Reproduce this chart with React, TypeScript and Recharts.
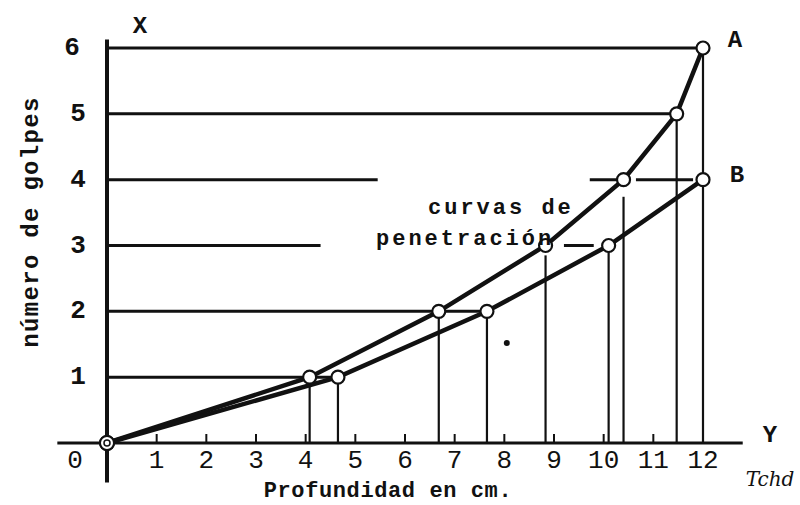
import { ComposedChart, Line, XAxis, YAxis, ReferenceLine, ReferenceDot } from 'recharts'

// curva A
const depthA = [0, 4.08, 6.68, 8.83, 10.4, 11.47, 12]
const blowsA = [0, 1, 2, 3, 4, 5, 6]
// curva B
const depthB = [0, 4.65, 7.65, 10.1, 12]
const blowsB = [0, 1, 2, 3, 4]

const xTicks = [0, 1, 2, 3, 4, 5, 6, 7, 8, 9, 10, 11, 12]
const yTicks = [1, 2, 3, 4, 5, 6]

// horizontal guide segments: [y, from x, to x]
const hGuides = [
    [6, 0, 12],
    [5, 0, 11.47],
    [4, 0, 5.45],
    [4, 9.72, 10.4],
    [4, 10.65, 11.8],
    [3, 0, 4.3],
    [3, 9.2, 9.8],
    [2, 0, 7.65],
    [1, 0, 4.65],
]
// vertical drop lines: [x, top y]
const vGuides = [
    [4.08, 1],
    [4.65, 1],
    [6.68, 2],
    [7.65, 2],
    [8.83, 2.85],
    [10.1, 3],
    [10.4, 3.74],
    [11.47, 5],
    [12, 6],
]

const dataA = depthA.map((x, i) => ({ x, y: blowsA[i] }))
const dataB = depthB.map((x, i) => ({ x, y: blowsB[i] }))

const INK = '#111'
const MONO = '"Liberation Mono", "DejaVu Sans Mono", monospace'

const OpenDot = (props: any) => {
    const { cx, cy, index } = props
    if (index === 0) {
        return (
            <g key={`d${index}`}>
                <circle cx={cx} cy={cy} r={7} fill="#fff" stroke={INK} strokeWidth={2} />
                <circle cx={cx} cy={cy} r={3} fill="#fff" stroke={INK} strokeWidth={1.5} />
            </g>
        )
    }
    return <circle key={`d${index}`} cx={cx} cy={cy} r={6.5} fill="#fff" stroke={INK} strokeWidth={2.2} />
}

const XTick = (props: any) => {
    const { x, payload } = props
    const v = payload.value
    const y = 443
    return (
        <g>
            {v > 0 && <line x1={x} y1={y - 9} x2={x} y2={y} stroke={INK} strokeWidth={2} />}
            <text x={v === 0 ? x - 32 : x} y={y + 25} textAnchor="middle" fontFamily={MONO} fontSize={26} fill={INK}>
                {v}
            </text>
        </g>
    )
}

const YTick = (props: any) => {
    const { y, payload } = props
    const x = 107
    return (
        <text x={payload.value === 6 ? x - 35 : x - 29} y={y + 7} textAnchor="middle" fontFamily={MONO} fontSize={26} fontWeight="bold" fill={INK}>
            {payload.value}
        </text>
    )
}

export default function App() {
    return (
        <div style={{ position: 'absolute', left: 0, top: 0, width: 800, height: 505, background: '#fff' }}>
            <ComposedChart width={800} height={505} margin={{ top: 48, right: 97, bottom: 32, left: 47 }}>
                <XAxis dataKey="x" type="number" domain={[0, 12]} ticks={xTicks} height={30} axisLine={false} tickLine={false} tickSize={0} tick={<XTick />} interval={0} />
                <YAxis dataKey="y" type="number" domain={[0, 6]} ticks={yTicks} width={60} axisLine={false} tickLine={false} tickSize={0} tick={<YTick />} interval={0} />

                {/* ejes */}
                <ReferenceLine segment={[{ x: -1, y: 0 }, { x: 12.8, y: 0 }]} stroke={INK} strokeWidth={3} ifOverflow="visible" />
                <ReferenceLine segment={[{ x: 0, y: -0.6 }, { x: 0, y: 6.13 }]} stroke={INK} strokeWidth={4} ifOverflow="visible" />

                {hGuides.map(([y, a, b], i) => (
                    <ReferenceLine key={`h${i}`} segment={[{ x: a, y }, { x: b, y }]} stroke={INK} strokeWidth={3} ifOverflow="visible" />
                ))}
                {vGuides.map(([x, top], i) => (
                    <ReferenceLine key={`v${i}`} segment={[{ x, y: 0 }, { x, y: top }]} stroke={INK} strokeWidth={2.2} ifOverflow="visible" />
                ))}

                <ReferenceDot x={8.05} y={1.52} r={3} fill={INK} stroke="none" ifOverflow="visible" />

                <Line data={dataA} dataKey="y" type="linear" stroke={INK} strokeWidth={4.5} dot={OpenDot} isAnimationActive={false} />
                <Line data={dataB} dataKey="y" type="linear" stroke={INK} strokeWidth={4.5} dot={OpenDot} isAnimationActive={false} />
            </ComposedChart>

            <svg width={800} height={505} style={{ position: 'absolute', left: 0, top: 0, pointerEvents: 'none' }}>
                <g fontFamily={MONO} fill={INK} fontWeight="bold">
                    <text x={140} y={33} textAnchor="middle" fontSize={24}>X</text>
                    <text x={735} y={47} textAnchor="middle" fontSize={24}>A</text>
                    <text x={737} y={182} textAnchor="middle" fontSize={24}>B</text>
                    <text x={770} y={442} textAnchor="middle" fontSize={24}>Y</text>
                    <text x={428} y={214} fontSize={22} letterSpacing={3}>curvas de</text>
                    <text x={376} y={245} fontSize={22} letterSpacing={3}>penetración</text>
                    <text x={388} y={497} textAnchor="middle" fontSize={22} letterSpacing={0.6}>Profundidad en cm.</text>
                    <text x={38} y={222} textAnchor="middle" fontSize={24} letterSpacing={1.3} transform="rotate(-90 38 222)">número de golpes</text>
                </g>
                <text x={770} y={486} textAnchor="middle" fontFamily='"DejaVu Serif", serif' fontStyle="italic" fontSize={20} fill={INK}>Tchd</text>
            </svg>
        </div>
    )
}
